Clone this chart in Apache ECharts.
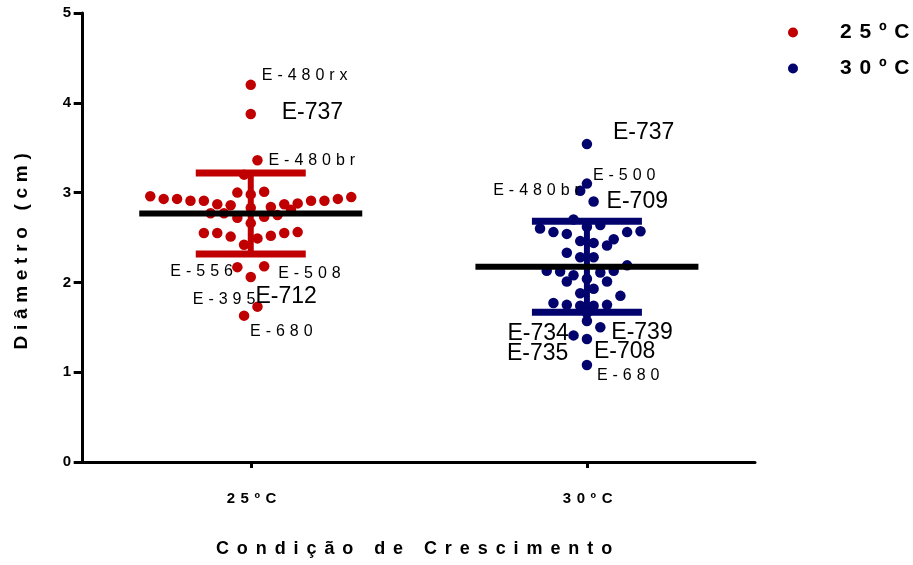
<!DOCTYPE html>
<html><head><meta charset="utf-8">
<script src="https://cdn.jsdelivr.net/npm/echarts@6/dist/echarts.min.js"></script>
<style>html,body{margin:0;padding:0;background:#fff}#c{width:913px;height:565px}</style>
</head><body><div id="c"></div>
<script>
// ---------------- DATA ----------------
const categories = ['25ºC', '30ºC'];
const axisTitleX = 'Condição de Crescimento';
const axisTitleY = 'Diâmetro (cm)';

// Diameters (cm) of each isolate, 25ºC
const values25 = [4.20, 3.875, 3.36, 3.20, 3.00, 2.98, 3.01,
  2.96, 2.93, 2.93, 2.91, 2.91, 2.87, 2.86, 2.84, 2.87, 2.88, 2.91, 2.91, 2.93, 2.95,
  2.77, 2.77, 2.72, 2.83, 2.66, 2.73, 2.75, 2.81,
  2.55, 2.55, 2.51, 2.42, 2.49, 2.52, 2.55, 2.56,
  2.17, 2.18, 2.06, 1.73, 1.63];
// beeswarm slot (horizontal spread) of each point, 25ºC
const slots25 = [0, 0, 0.5, -0.5, -1, 0, 1,
  -7.5, -6.5, -5.5, -4.5, -3.5, -2.5, -1.5, 1.5, 2.5, 3.5, 4.5, 5.5, 6.5, 7.5,
  -3, -2, -1, 0, 0, 1, 2, 3,
  -3.5, -2.5, -1.5, -0.5, 0.5, 1.5, 2.5, 3.5,
  -1, 1, 0, 0.5, -0.5];

// Diameters (cm) of each isolate, 30ºC
const values30 = [3.54, 3.10, 3.02, 2.90, 2.70,
  2.60, 2.56, 2.54, 2.62, 2.64, 2.56, 2.57,
  2.46, 2.44, 2.41, 2.48,
  2.33, 2.28, 2.28, 2.19,
  2.13, 2.12, 2.08, 2.11, 2.13,
  2.01, 2.04, 2.01,
  1.88, 1.93, 1.85,
  1.77, 1.75, 1.74, 1.74, 1.75,
  1.57, 1.50, 1.41, 1.37, 1.08,
  1.68, 1.66];
const slots30 = [0, 0, -0.5, 0.5, -1,
  -3.5, -2.5, -1.5, 0, 1, 3, 4,
  -0.5, 0.5, 1.5, 2,
  -1.5, -0.5, 0.5, 3,
  -3, -2, -1, 1, 2,
  -1.5, 0, 1.5,
  -0.5, 0.5, 2.5,
  -2.5, -1.5, -0.5, 0.5, 1.5,
  0, 1, -1, 0, 0,
  0, 0];

// isolate names shown next to points (point index -> name)
const names25 = {0: 'E-480rx', 1: 'E-737', 2: 'E-480br', 37: 'E-556', 38: 'E-508', 39: 'E-395', 40: 'E-712', 41: 'E-680'};
const names30 = {0: 'E-737', 1: 'E-500', 2: 'E-480br', 3: 'E-709', 38: 'E-734', 37: 'E-739', 39: 'E-708', 36: 'E-735', 40: 'E-680'};

// ---------------- STYLE ----------------
const COLORS = ['#C00000', '#03036E'];
const FONT = "'Liberation Sans', Arial, Helvetica, sans-serif";
const SYM = 10.5;
const X_MIN = -0.005, X_MAX = 2;
const SLOT = 13.4 / 336.2;      // axis units per beeswarm slot
const CENTERS = [0.5, 1.5];
// label placement: [dx from point centre to text start, dy, big font?]
const labelStyle = {
  '0-0': [11, -9, 0], '0-1': [31, -1, 1], '0-2': [11, 0, 0], '0-37': [-67, 4, 0],
  '0-38': [14, 7, 0], '0-39': [-58, 23, 0], '0-40': [-2, -10, 1], '0-41': [6, 16, 0],
  '1-0': [26, -11, 1], '1-1': [6, -8, 0], '1-2': [-87, 0, 0], '1-3': [13, 0, 1],
  '1-38': [-66, -2, 1], '1-37': [11, 5, 1], '1-39': [7, 13, 1], '1-36': [-80, 33, 1], '1-40': [10, 11, 0]
};
// letter spacing (em) for texts drawn spaced in the original
const SPACED = {};
SPACED[axisTitleY] = 0.30; SPACED[axisTitleX] = 0.44;
categories.forEach(c => SPACED[c] = 0.37);
['E-480rx', 'E-480br', 'E-556', 'E-508', 'E-395', 'E-680', 'E-500'].forEach(t => SPACED[t] = 0.31);

(function () {
  const P = CanvasRenderingContext2D.prototype;
  const f = P.fillText;
  P.fillText = function (t, x, y, m) {
    if ('letterSpacing' in this) {
      const k = SPACED[t] || 0;
      const mm = /([\d.]+)px/.exec(this.font);
      const s = mm ? parseFloat(mm[1]) : 12;
      this.letterSpacing = (k * s).toFixed(2) + 'px';
    }
    return f.apply(this, arguments);
  };
})();

function stats(arr) {
  const n = arr.length;
  const mean = arr.reduce((a, b) => a + b, 0) / n;
  const sd = Math.sqrt(arr.reduce((a, b) => a + (b - mean) * (b - mean), 0) / (n - 1));
  return [mean, sd];
}

function buildPoints(g, vals, slots, names) {
  return vals.map((v, i) => {
    const item = {value: [CENTERS[g] + slots[i] * SLOT, v]};
    if (names[i]) {
      const st = labelStyle[g + '-' + i];
      const big = st[2] === 1;
      item.label = {
        show: true, formatter: names[i], position: 'right', distance: 0,
        offset: [st[0] - SYM / 2, st[1]], color: '#000',
        fontFamily: FONT, fontSize: big ? 23 : 16, fontWeight: 'normal'
      };
    }
    return item;
  });
}

const st25 = stats(values25), st30 = stats(values30);
const summary = [[0, CENTERS[0], st25[0], st25[1]], [1, CENTERS[1], st30[0], st30[1]]];

const chart = echarts.init(document.getElementById('c'), null, {renderer: 'canvas'});
chart.setOption({
  animation: false,
  backgroundColor: '#fff',
  grid: {left: 81, right: 158, top: 13, bottom: 103},
  legend: {
    orient: 'vertical', left: 783, top: 17, itemWidth: 84, itemHeight: 10, itemGap: 15,
    data: [{name: categories[0], icon: 'circle'}, {name: categories[1], icon: 'circle'}],
    textStyle: {fontFamily: FONT, fontSize: 21, fontWeight: 'bold', color: '#000'},
    selectedMode: false
  },
  xAxis: {
    type: 'value', min: X_MIN, max: X_MAX,
    name: axisTitleX, nameLocation: 'middle', nameGap: 78,
    nameTextStyle: {fontFamily: FONT, fontSize: 18, fontWeight: 'bold', color: '#000'},
    axisLine: {show: true, lineStyle: {color: '#000', width: 3}},
    axisTick: {show: true, customValues: CENTERS, length: 6, lineStyle: {color: '#000', width: 3}},
    axisLabel: {customValues: CENTERS, margin: 29, padding: [0, 0, 0, 7], formatter: v => categories[CENTERS.indexOf(v)] || '',
      fontFamily: FONT, fontSize: 15, fontWeight: 'bold', color: '#000'},
    splitLine: {show: false}
  },
  yAxis: {
    type: 'value', min: 0, max: 5, interval: 1,
    name: axisTitleY, nameLocation: 'middle', nameGap: 50, nameRotate: 90,
    nameTextStyle: {fontFamily: FONT, fontSize: 19, fontWeight: 'bold', color: '#000', padding: [0, 22, 0, 0]},
    axisLine: {show: true, lineStyle: {color: '#000', width: 3}},
    axisTick: {show: true, length: 9, lineStyle: {color: '#000', width: 3}},
    axisLabel: {margin: 10, fontFamily: FONT, fontSize: 15, fontWeight: 'bold', color: '#000'},
    splitLine: {show: false}
  },
  series: [
    {name: categories[0], type: 'scatter', symbol: 'circle', symbolSize: SYM, itemStyle: {color: COLORS[0], opacity: 1},
      data: buildPoints(0, values25, slots25, names25), z: 2},
    {name: categories[1], type: 'scatter', symbol: 'circle', symbolSize: SYM, itemStyle: {color: COLORS[1], opacity: 1},
      data: buildPoints(1, values30, slots30, names30), z: 2},
    {type: 'custom', silent: true, z: 5, data: summary, encode: {x: 1, y: 2},
      renderItem: function (params, api) {
        const cx = api.value(1), m = api.value(2), sd = api.value(3);
        const col = COLORS[api.value(0)];
        const pm = api.coord([cx, m]), pt = api.coord([cx, m + sd]), pb = api.coord([cx, m - sd]);
        return {type: 'group', children: [
          {type: 'rect', shape: {x: pm[0] - 3, y: pt[1], width: 6, height: pb[1] - pt[1]}, style: {fill: col}},
          {type: 'rect', shape: {x: pm[0] - 55, y: pt[1] - 3.5, width: 110, height: 7}, style: {fill: col}},
          {type: 'rect', shape: {x: pm[0] - 55, y: pb[1] - 3.5, width: 110, height: 7}, style: {fill: col}},
          {type: 'rect', shape: {x: pm[0] - 111.5, y: pm[1] - 3, width: 223, height: 6}, style: {fill: '#000'}}
        ]};
      }}
  ]
});
</script></body></html>
